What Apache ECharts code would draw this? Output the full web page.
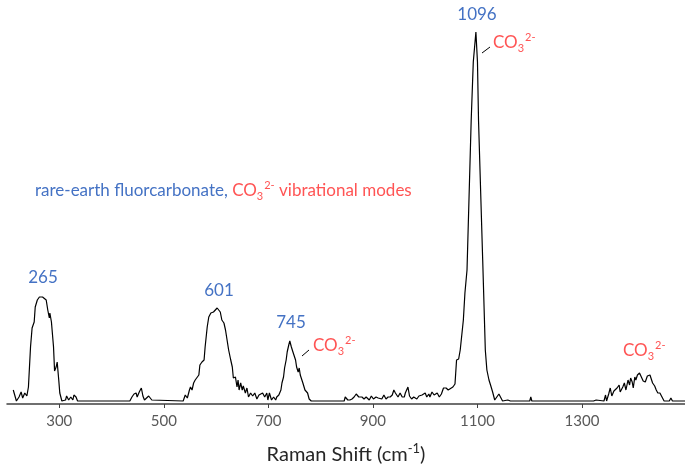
<!DOCTYPE html>
<html>
<head>
<meta charset="utf-8">
<script src="https://cdn.jsdelivr.net/npm/echarts@6/dist/echarts.min.js"></script>
<style>
  html, body { margin: 0; padding: 0; background: #fff; }
  #chart { width: 685px; height: 467px; }
</style>
</head>
<body>
<div id="chart"></div>
<script>
// Raman shift (cm-1) and intensity
var shifts = [
  212, 218, 223, 227, 230, 234, 238, 241, 245, 248, 252, 254, 258, 262, 265, 268, 271, 275, 278, 281,
  282, 285, 289, 291, 294, 296, 299, 301, 305, 312, 314, 318, 322, 326, 328, 332, 335, 435, 439, 443,
  447, 449, 453, 457, 460, 463, 471, 474, 477, 480, 537, 541, 545, 549, 551, 554, 557, 560, 563, 567,
  569, 573, 577, 579, 583, 586, 590, 592, 595, 598, 602, 605, 608, 611, 615, 618, 620, 624, 628, 631,
  633, 637, 640, 642, 644, 647, 650, 652, 656, 659, 662, 666, 670, 674, 678, 682, 685, 689, 693, 697,
  699, 702, 706, 710, 714, 716, 720, 724, 726, 729, 731, 734, 736, 739, 741, 744, 747, 749, 752, 754,
  757, 759, 761, 763, 766, 770, 772, 775, 778, 782, 845, 847, 850, 852, 856, 860, 864, 868, 870, 873,
  875, 879, 883, 887, 889, 893, 897, 901, 906, 910, 913, 917, 921, 925, 929, 933, 937, 940, 943, 945,
  948, 952, 956, 960, 962, 965, 967, 970, 974, 978, 980, 984, 988, 990, 994, 996, 1000, 1003, 1007, 1009,
  1013, 1017, 1019, 1023, 1027, 1031, 1035, 1040, 1044, 1047, 1053, 1057, 1060, 1064, 1067, 1069, 1073, 1076, 1080, 1088,
  1092, 1097, 1100, 1102, 1110, 1115, 1118, 1122, 1125, 1129, 1133, 1137, 1141, 1145, 1148, 1158, 1161, 1163, 1200, 1202,
  1204, 1322, 1327, 1330, 1342, 1345, 1347, 1351, 1354, 1357, 1361, 1363, 1367, 1371, 1373, 1378, 1381, 1384, 1388, 1391,
  1393, 1396, 1398, 1401, 1403, 1406, 1410, 1413, 1417, 1421, 1425, 1430, 1433, 1435, 1439, 1442, 1445, 1449, 1453, 1457,
  1467, 1470, 1473, 1497
];
var intensities = [
  11, 0, 4, 9, 3, 8, 5, 14, 54, 73, 79, 94, 101, 104, 105, 104, 105, 101, 91, 83,
  88, 79, 54, 30, 34, 39, 21, 8, 0, 1, 5, 1, 4, 1, 6, 4, 0, 0, 4, 7,
  8, 4, 9, 13, 5, 1, 5, 3, 1, 0, 0, 6, 3, 11, 14, 11, 18, 21, 19, 26,
  36, 39, 41, 54, 74, 84, 88, 86, 89, 91, 93, 93, 89, 81, 78, 71, 73, 51, 41, 34,
  23, 24, 14, 21, 11, 18, 11, 15, 8, 13, 4, 8, 5, 8, 2, 6, 4, 8, 4, 8,
  1, 8, 1, 4, 1, 4, 6, 11, 18, 24, 33, 41, 49, 56, 60, 54, 49, 51, 41, 34,
  29, 33, 26, 24, 18, 11, 12, 8, 2, 0, 0, 4, 5, 1, 1, 2, 4, 7, 8, 4,
  2, 4, 2, 4, 3, 1, 5, 2, 4, 3, 5, 2, 6, 2, 4, 4, 6, 11, 8, 8,
  4, 8, 4, 4, 8, 6, 14, 5, 2, 4, 5, 2, 5, 4, 6, 4, 8, 4, 7, 4,
  9, 6, 4, 8, 4, 7, 13, 13, 11, 12, 14, 17, 41, 42, 51, 61, 81, 108, 131, 281,
  339, 369, 339, 281, 141, 51, 31, 21, 16, 9, 1, 4, 7, 3, 0, 1, 3, 0, 0, 4,
  0, 0, 1, 0, 0, 6, 0, 7, 13, 5, 10, 8, 13, 16, 9, 14, 18, 11, 21, 16,
  23, 19, 13, 24, 21, 26, 28, 26, 20, 19, 25, 26, 25, 18, 15, 11, 8, 8, 4, 0,
  0, 3, 0, 0
];
var tickValues = [300, 500, 700, 900, 1100, 1300];
var peakNames = ['265', '601', '745', '1096'];

var blue = '#4472c4';
var red = '#ff5454';
var font = 'Lato';

// graphic text uses fill, labels use color: set both
var co3Rich = {
  co: { fontSize: 17, lineHeight: 22, fill: red, color: red, fontFamily: font },
  sub: { fontSize: 11, lineHeight: 11, verticalAlign: 'bottom', fill: red, color: red, fontFamily: font },
  sup: { fontSize: 11, lineHeight: 11, verticalAlign: 'top', fill: red, color: red, fontFamily: font, padding: [0, 0, 0, 1] },
  bl: { fontSize: 17, lineHeight: 22, fill: blue, color: blue, fontFamily: font }
};
var co3Text = '{co|CO}{sub|3}{sup|2-}';

function peakText(name, x, y) {
  return {
    type: 'text', x: x, y: y,
    style: {
      text: name, fill: blue, fontSize: 17, fontFamily: font,
      align: 'center', verticalAlign: 'middle', textAlign: 'center', textVerticalAlign: 'middle'
    }
  };
}
function co3Label(x, y) {
  return {
    type: 'text', x: x, y: y,
    style: {
      text: co3Text, rich: co3Rich, fill: red,
      align: 'left', verticalAlign: 'middle', textAlign: 'left', textVerticalAlign: 'middle'
    }
  };
}
function tick(x1, y1, x2, y2) {
  return { type: 'line', shape: { x1: x1, y1: y1, x2: x2, y2: y2 }, style: { stroke: '#000', lineWidth: 1 } };
}

var option = {
  animation: false,
  backgroundColor: '#fff',
  grid: { left: 7, right: 0, top: 20, bottom: 63, containLabel: false, outerBoundsMode: 'none' },
  xAxis: {
    type: 'value',
    min: 200,
    max: 1497,
    splitLine: { show: false },
    axisLine: { onZero: false, lineStyle: { color: '#404040', width: 1.5 } },
    axisTick: { customValues: tickValues, length: 4, lineStyle: { color: '#404040', width: 1 } },
    axisLabel: {
      customValues: tickValues, color: '#595959', fontSize: 15, fontFamily: font, margin: 10,
      formatter: function (v) { return String(v); }
    },
    name: 'Raman Shift (cm{s|-1})',
    nameLocation: 'middle',
    nameGap: 38,
    nameTextStyle: {
      fontSize: 20, color: '#262626', fontFamily: font, lineHeight: 26,
      rich: { s: { fontSize: 13, lineHeight: 13, verticalAlign: 'top', color: '#262626', fontFamily: font } }
    }
  },
  yAxis: { type: 'value', min: -3, max: 381, show: false },
  series: [{
    type: 'line',
    data: shifts.map(function (s, i) { return [s, intensities[i]]; }),
    showSymbol: false,
    symbol: 'none',
    lineStyle: { color: '#000', width: 1.2 }
  }],
  graphic: [
    peakText(peakNames[0], 43, 278),
    peakText(peakNames[1], 219, 291),
    peakText(peakNames[2], 291, 323),
    peakText(peakNames[3], 477, 15),
    co3Label(313, 346),
    co3Label(493, 43),
    co3Label(623, 351),
    tick(302, 356, 309, 350),
    tick(482, 53, 490, 47),
    {
      type: 'text', x: 35, y: 191,
      style: {
        text: '{bl|rare-earth fluorcarbonate, }' + co3Text + '{co| vibrational modes}',
        rich: co3Rich,
        align: 'left', verticalAlign: 'middle', textAlign: 'left', textVerticalAlign: 'middle'
      }
    }
  ]
};

var chart = echarts.init(document.getElementById('chart'));
chart.setOption(option);
</script>
</body>
</html>
